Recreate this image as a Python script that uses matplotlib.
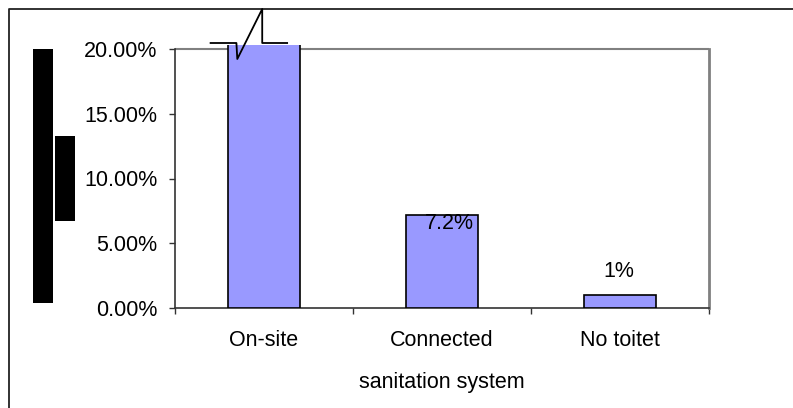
import matplotlib.pyplot as plt
from matplotlib.lines import Line2D
from matplotlib.patches import Rectangle
from matplotlib.ticker import FuncFormatter
import matplotlib.transforms as mtransforms

plt.rcParams['font.family'] = ['Liberation Sans', 'DejaVu Sans']

# share of households by sanitation system
categories = ["On-site", "Connected", "No toitet"]
shares = [0.918, 0.072, 0.01]
y_ticks = [0.0, 0.05, 0.10, 0.15, 0.20]

FS = 15.5
W, H = 793, 408
fig = plt.figure(figsize=(W / 100, H / 100), dpi=100)

# plot area (pixel box 175..709 x 45..308)
ax = fig.add_axes([175 / W, 1 - 308 / H, (709 - 175) / W, (308 - 45) / H])
x = list(range(len(categories)))
ax.bar(x, shares, width=0.405, color="#9999ff", edgecolor="black",
       linewidth=1.2, zorder=3)
ax.set_xlim(-0.5, len(categories) - 0.5)
ax.set_ylim(0, 0.20 * 263 / 259)
ax.axhline(0.20, color="#808080", linewidth=1.5, zorder=1)

# value labels (first bar is cut by the axis break)
offsets = [None, (5, -6), (-1, 17)]
for xi, v, off in zip(x, shares, offsets):
    if off is None:
        continue
    ax.annotate(f"{v * 100:g}%", (xi, v), xytext=off, textcoords="offset points",
                ha="center", va="center", fontsize=FS)

ax.spines["top"].set_visible(False)
ax.spines["right"].set_color("#808080")
ax.spines["right"].set_linewidth(2)
ax.spines["right"].set_bounds(0, 0.20)
ax.spines["left"].set_bounds(0, 0.20)
ax.spines["left"].set_color("#333333")
ax.spines["bottom"].set_color("#333333")
ax.spines["left"].set_linewidth(1.2)
ax.spines["bottom"].set_linewidth(1.2)

ax.set_yticks(y_ticks)
ax.yaxis.set_major_formatter(FuncFormatter(lambda v, p: f"{v * 100:.2f}%"))
ax.tick_params(axis="y", direction="out", length=4.5, width=1, pad=8,
               labelsize=FS, color="#333333")

ax.set_xticks([i - 0.5 for i in range(len(categories) + 1)])
ax.set_xticklabels([])
ax.set_xticks(x, minor=True)
ax.set_xticklabels(categories, minor=True)
ax.tick_params(axis="x", which="major", direction="out", length=4.5, width=1,
               color="#333333")
ax.tick_params(axis="x", which="minor", length=0, pad=16, labelsize=FS)
ax.set_xlabel("sanitation system", fontsize=FS, labelpad=15)

# axis break marker on the tall bar
tr = mtransforms.blended_transform_factory(ax.transData, fig.transFigure)
bx = [-0.30, -0.155, -0.15, -0.01, -0.01, 0.13]
by = [43, 43, 59, 9, 43, 43]
fig.add_artist(Line2D(bx, [1 - v / H for v in by], transform=tr,
                      color="black", linewidth=1.3, zorder=5))

# outer chart frame (left and top edges)
fig.add_artist(Line2D([9 / W, 9 / W, 1.0], [0.0, 1 - 9 / H, 1 - 9 / H],
                      color="#222222", linewidth=1.3))

# solid blocks at the left edge
fig.add_artist(Rectangle((33 / W, 1 - 303 / H), 20 / W, 254 / H,
                         facecolor="black", edgecolor="none"))
fig.add_artist(Rectangle((55 / W, 1 - 221 / H), 20 / W, 85 / H,
                         facecolor="black", edgecolor="none"))

fig.savefig("out.png", dpi=100)
